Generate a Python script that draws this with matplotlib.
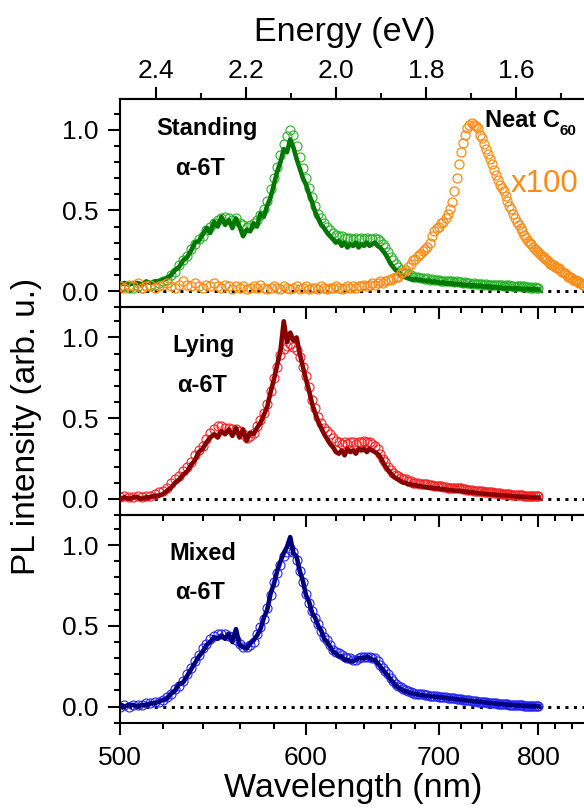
import matplotlib
matplotlib.use("Agg")
import matplotlib.pyplot as plt
import numpy as np
from matplotlib.ticker import FixedLocator, FormatStrFormatter

plt.rcParams["font.family"] = ["Liberation Sans", "DejaVu Sans"]

HC = 1239.84  # eV * nm

# wavelength grids (nm)
WL = np.arange(500, 801, 2)
WL_C60 = np.arange(500, 857, 2)

# standing alpha-6T: measured points and averaged trace
STANDING_PTS = [
    0.02, 0.03, 0.02, 0.02, 0.03, 0.02, 0.03, 0.03, 0.04, 0.05,
    0.06, 0.07, 0.10, 0.12, 0.16, 0.19, 0.22, 0.26, 0.29, 0.32,
    0.34, 0.38, 0.40, 0.42, 0.44, 0.45, 0.46, 0.45, 0.44, 0.45,
    0.42, 0.41, 0.40, 0.41, 0.42, 0.44, 0.47, 0.51, 0.56, 0.63,
    0.70, 0.77, 0.84, 0.91, 0.96, 1.00, 0.97, 0.90, 0.83, 0.76,
    0.70, 0.64, 0.58, 0.53, 0.48, 0.45, 0.42, 0.40, 0.38, 0.36,
    0.35, 0.34, 0.34, 0.33, 0.33, 0.33, 0.32, 0.33, 0.32, 0.33,
    0.32, 0.33, 0.32, 0.32, 0.33, 0.32, 0.31, 0.29, 0.27, 0.24,
    0.21, 0.19, 0.17, 0.15, 0.13, 0.12, 0.11, 0.10, 0.10, 0.09,
    0.09, 0.085, 0.08, 0.08, 0.075, 0.08, 0.07, 0.075, 0.07, 0.07,
    0.07, 0.065, 0.065, 0.06, 0.065, 0.06, 0.06, 0.055, 0.06, 0.055,
    0.055, 0.05, 0.055, 0.05, 0.05, 0.045, 0.05, 0.045, 0.045, 0.045,
    0.045, 0.04, 0.045, 0.04, 0.04, 0.035, 0.04, 0.035, 0.04, 0.035,
    0.035, 0.03, 0.035, 0.03, 0.035, 0.03, 0.03, 0.025, 0.03, 0.03,
    0.03, 0.025, 0.03, 0.025, 0.025, 0.02, 0.025, 0.02, 0.025, 0.02,
    0.02,
]
STANDING_LINE = [
    0.04, 0.05, 0.04, 0.05, 0.05, 0.04, 0.06, 0.05, 0.06, 0.06,
    0.07, 0.08, 0.10, 0.13, 0.15, 0.19, 0.21, 0.25, 0.30, 0.31,
    0.35, 0.39, 0.36, 0.43, 0.40, 0.46, 0.41, 0.44, 0.39, 0.45,
    0.40, 0.34, 0.38, 0.37, 0.42, 0.40, 0.48, 0.46, 0.53, 0.58,
    0.66, 0.74, 0.80, 0.88, 0.86, 0.94, 0.89, 0.82, 0.76, 0.70,
    0.66, 0.60, 0.55, 0.49, 0.45, 0.41, 0.39, 0.36, 0.34, 0.32,
    0.30, 0.31, 0.28, 0.30, 0.27, 0.29, 0.28, 0.30, 0.27, 0.29,
    0.28, 0.30, 0.28, 0.29, 0.30, 0.28, 0.27, 0.25, 0.23, 0.20,
    0.17, 0.15, 0.13, 0.12, 0.10, 0.09, 0.085, 0.08, 0.075, 0.07,
    0.075, 0.07, 0.07, 0.065, 0.065, 0.06, 0.065, 0.055, 0.06, 0.055,
    0.055, 0.05, 0.055, 0.045, 0.05, 0.045, 0.05, 0.04, 0.045, 0.04,
    0.045, 0.035, 0.04, 0.035, 0.04, 0.03, 0.035, 0.035, 0.03, 0.035,
    0.03, 0.025, 0.03, 0.025, 0.03, 0.02, 0.025, 0.025, 0.02, 0.025,
    0.02, 0.015, 0.02, 0.015, 0.02, 0.015, 0.015, 0.02, 0.015, 0.015,
    0.015, 0.01, 0.015, 0.01, 0.015, 0.01, 0.01, 0.015, 0.01, 0.01,
    0.01,
]

# neat C60 film, scaled x100
C60_PTS = [
    0.03, 0.02, 0.04, 0.03, 0.05, 0.02, 0.03, 0.04, 0.02, 0.03,
    0.04, 0.05, 0.03, 0.02, 0.04, 0.06, 0.04, 0.03, 0.05, 0.03,
    0.02, 0.04, 0.03, 0.05, 0.03, 0.02, 0.04, 0.03, 0.01, 0.03,
    0.02, 0.03, 0.01, 0.02, 0.03, 0.02, 0.04, 0.02, 0.01, 0.02,
    0.03, 0.02, 0.01, 0.03, 0.02, 0.01, 0.02, 0.03, 0.01, 0.02,
    0.03, 0.01, 0.02, 0.02, 0.01, 0.03, 0.02, 0.01, 0.02, 0.02,
    0.03, 0.02, 0.01, 0.02, 0.03, 0.02, 0.03, 0.02, 0.03, 0.03,
    0.04, 0.03, 0.04, 0.05, 0.04, 0.05, 0.06, 0.05, 0.06, 0.07,
    0.07, 0.08, 0.09, 0.09, 0.11, 0.12, 0.13, 0.15, 0.17, 0.19,
    0.20, 0.22, 0.23, 0.25, 0.26, 0.27, 0.30, 0.34, 0.37, 0.39,
    0.40, 0.42, 0.43, 0.45, 0.48, 0.51, 0.55, 0.62, 0.70, 0.79,
    0.86, 0.92, 0.97, 1.01, 1.03, 1.04, 1.03, 1.02, 1.01, 0.97,
    0.95, 0.91, 0.88, 0.85, 0.82, 0.79, 0.75, 0.72, 0.69, 0.66,
    0.64, 0.62, 0.59, 0.56, 0.53, 0.51, 0.48, 0.45, 0.43, 0.41,
    0.39, 0.37, 0.35, 0.33, 0.31, 0.30, 0.29, 0.27, 0.26, 0.25,
    0.24, 0.23, 0.22, 0.21, 0.20, 0.19, 0.18, 0.17, 0.16, 0.16,
    0.15, 0.14, 0.14, 0.13, 0.12, 0.11, 0.11, 0.10, 0.09, 0.09,
    0.08, 0.07, 0.07, 0.06, 0.06, 0.05, 0.05, 0.04, 0.04,
]

# lying alpha-6T
LYING_PTS = [
    0.01, 0.02, 0.01, 0.01, 0.02, 0.01, 0.02, 0.02, 0.03, 0.04,
    0.05, 0.07, 0.10, 0.12, 0.14, 0.17, 0.20, 0.23, 0.27, 0.30,
    0.33, 0.37, 0.41, 0.43, 0.45, 0.45, 0.44, 0.44, 0.43, 0.43,
    0.42, 0.40, 0.38, 0.39, 0.41, 0.45, 0.49, 0.53, 0.59, 0.67,
    0.75, 0.82, 0.89, 0.93, 0.95, 0.96, 0.94, 0.92, 0.88, 0.82,
    0.76, 0.69, 0.61, 0.56, 0.51, 0.47, 0.44, 0.42, 0.40, 0.38,
    0.36, 0.35, 0.34, 0.35, 0.34, 0.35, 0.35, 0.34, 0.35, 0.35,
    0.36, 0.35, 0.35, 0.34, 0.33, 0.31, 0.28, 0.25, 0.23, 0.20,
    0.18, 0.16, 0.15, 0.14, 0.13, 0.12, 0.12, 0.11, 0.11, 0.10,
    0.10, 0.10, 0.095, 0.09, 0.09, 0.09, 0.085, 0.085, 0.08, 0.08,
    0.08, 0.08, 0.075, 0.075, 0.07, 0.07, 0.07, 0.065, 0.065, 0.065,
    0.065, 0.06, 0.06, 0.055, 0.055, 0.055, 0.05, 0.05, 0.05, 0.048,
    0.047, 0.045, 0.045, 0.042, 0.04, 0.04, 0.038, 0.036, 0.035, 0.034,
    0.033, 0.031, 0.03, 0.029, 0.028, 0.027, 0.026, 0.025, 0.024, 0.023,
    0.022, 0.021, 0.02, 0.02, 0.019, 0.018, 0.017, 0.016, 0.016, 0.015,
    0.015,
]
LYING_LINE = [
    0.00, 0.01, 0.00, 0.01, 0.01, 0.00, 0.01, 0.01, 0.02, 0.02,
    0.03, 0.05, 0.07, 0.10, 0.12, 0.15, 0.17, 0.21, 0.24, 0.29,
    0.31, 0.35, 0.38, 0.40, 0.38, 0.42, 0.40, 0.43, 0.39, 0.44,
    0.38, 0.43, 0.36, 0.41, 0.40, 0.44, 0.47, 0.52, 0.57, 0.66,
    0.74, 0.83, 0.92, 1.10, 0.97, 1.03, 0.98, 1.00, 0.90, 0.82,
    0.74, 0.67, 0.59, 0.53, 0.48, 0.44, 0.40, 0.37, 0.34, 0.32,
    0.29, 0.28, 0.30, 0.27, 0.31, 0.29, 0.30, 0.28, 0.31, 0.30,
    0.31, 0.29, 0.31, 0.30, 0.29, 0.28, 0.26, 0.23, 0.20, 0.18,
    0.16, 0.14, 0.13, 0.12, 0.11, 0.10, 0.10, 0.09, 0.09, 0.085,
    0.085, 0.08, 0.08, 0.075, 0.075, 0.07, 0.07, 0.07, 0.065, 0.065,
    0.065, 0.06, 0.06, 0.06, 0.055, 0.055, 0.055, 0.05, 0.05, 0.05,
    0.05, 0.045, 0.045, 0.045, 0.04, 0.04, 0.04, 0.038, 0.036, 0.035,
    0.034, 0.032, 0.031, 0.03, 0.029, 0.028, 0.027, 0.026, 0.025, 0.024,
    0.023, 0.022, 0.021, 0.02, 0.019, 0.018, 0.017, 0.016, 0.015, 0.014,
    0.014, 0.013, 0.012, 0.012, 0.011, 0.01, 0.01, 0.009, 0.009, 0.008,
    0.008,
]

# mixed alpha-6T
MIXED_PTS = [
    0.00, 0.01, 0.00, 0.01, 0.01, 0.01, 0.02, 0.02, 0.03, 0.03,
    0.04, 0.06, 0.08, 0.11, 0.13, 0.16, 0.20, 0.24, 0.28, 0.32,
    0.36, 0.39, 0.42, 0.44, 0.45, 0.45, 0.45, 0.44, 0.43, 0.41,
    0.39, 0.37, 0.37, 0.38, 0.40, 0.45, 0.49, 0.54, 0.61, 0.69,
    0.77, 0.83, 0.88, 0.93, 0.96, 0.98, 0.96, 0.91, 0.84, 0.77,
    0.70, 0.64, 0.59, 0.55, 0.51, 0.47, 0.43, 0.41, 0.38, 0.35,
    0.34, 0.33, 0.32, 0.31, 0.30, 0.30, 0.29, 0.29, 0.30, 0.31,
    0.31, 0.31, 0.31, 0.30, 0.30, 0.28, 0.26, 0.24, 0.22, 0.20,
    0.18, 0.16, 0.14, 0.13, 0.12, 0.11, 0.10, 0.095, 0.09, 0.085,
    0.08, 0.08, 0.075, 0.075, 0.07, 0.07, 0.068, 0.066, 0.065, 0.064,
    0.062, 0.06, 0.058, 0.057, 0.055, 0.054, 0.052, 0.05, 0.048, 0.046,
    0.045, 0.043, 0.041, 0.04, 0.038, 0.036, 0.034, 0.033, 0.031, 0.03,
    0.029, 0.027, 0.026, 0.024, 0.023, 0.021, 0.02, 0.019, 0.018, 0.017,
    0.016, 0.015, 0.014, 0.013, 0.012, 0.011, 0.01, 0.01, 0.009, 0.008,
    0.008, 0.007, 0.006, 0.006, 0.005, 0.005, 0.004, 0.004, 0.003, 0.003,
    0.002,
]
MIXED_LINE = [
    0.01, 0.00, 0.01, 0.01, 0.00, 0.01, 0.01, 0.02, 0.02, 0.03,
    0.04, 0.05, 0.08, 0.10, 0.14, 0.15, 0.19, 0.23, 0.27, 0.31,
    0.34, 0.38, 0.40, 0.43, 0.42, 0.44, 0.42, 0.45, 0.40, 0.48,
    0.38, 0.37, 0.36, 0.39, 0.41, 0.44, 0.48, 0.55, 0.60, 0.70,
    0.76, 0.84, 0.90, 0.95, 0.99, 1.05, 0.95, 0.93, 0.84, 0.78,
    0.69, 0.65, 0.58, 0.55, 0.50, 0.47, 0.42, 0.40, 0.37, 0.34,
    0.33, 0.31, 0.31, 0.29, 0.29, 0.28, 0.28, 0.29, 0.30, 0.30,
    0.30, 0.31, 0.30, 0.29, 0.29, 0.27, 0.25, 0.23, 0.21, 0.19,
    0.17, 0.15, 0.13, 0.12, 0.11, 0.10, 0.095, 0.09, 0.085, 0.08,
    0.078, 0.075, 0.072, 0.07, 0.068, 0.066, 0.064, 0.063, 0.062, 0.06,
    0.059, 0.057, 0.055, 0.054, 0.052, 0.05, 0.049, 0.047, 0.045, 0.044,
    0.042, 0.04, 0.039, 0.037, 0.036, 0.034, 0.032, 0.031, 0.03, 0.028,
    0.027, 0.026, 0.024, 0.023, 0.021, 0.02, 0.019, 0.018, 0.017, 0.016,
    0.015, 0.014, 0.013, 0.012, 0.011, 0.01, 0.009, 0.009, 0.008, 0.007,
    0.007, 0.006, 0.005, 0.005, 0.004, 0.004, 0.003, 0.003, 0.002, 0.002,
    0.001,
]

WL_MAJOR = [500, 600, 700, 800]
WL_MINOR = list(range(500, 861, 20))
EV_MAJOR = [2.4, 2.2, 2.0, 1.8, 1.6]
EV_MINOR = [2.3, 2.1, 1.9, 1.7, 1.5]

W, H = 584, 809


def fx(px):
    return px / W


def fy(py):
    return 1 - py / H


def ev(wl):
    return HC / np.asarray(wl, dtype=float)


fig = plt.figure(figsize=(W / 100, H / 100), dpi=100)

left, right = 120, 586
tops = [99, 306.8, 514.5]
ph = 208.2
e_left = ev(500)
e_right = e_left - (right - left) / 450

panels = [
    ("Standing", STANDING_PTS, STANDING_LINE, "#26b326", "#007800"),
    ("Lying", LYING_PTS, LYING_LINE, "#ff1f1f", "#870000"),
    ("Mixed", MIXED_PTS, MIXED_LINE, "#2424ff", "#00007d"),
]

axes = []
for i, (name, pts, line, c_pts, c_line) in enumerate(panels):
    top = tops[i]
    ax = fig.add_axes([fx(left), fy(top + ph), (right - left) / W, ph / H])
    ax.patch.set_alpha(0)
    ax.axhline(0, color="black", lw=2.2, ls=(0, (1, 1.8)), zorder=0.5)
    ax.plot(ev(WL), pts, "o", mfc="none", mec=c_pts, ms=6.5, mew=0.8, zorder=2)
    ax.plot(ev(WL), line, "-", color=c_line, lw=3.3, zorder=3)
    if i == 0:
        ax.plot(ev(WL_C60), C60_PTS, "o", mfc="none", mec="#ff8a12",
                ms=6.5, mew=0.9, zorder=4)
    ax.set_xlim(e_left, e_right)
    ax.set_ylim(-0.1, 1.19)

    ax.xaxis.set_major_locator(FixedLocator(ev(WL_MAJOR)))
    ax.xaxis.set_minor_locator(FixedLocator(ev(WL_MINOR)))
    ax.set_xticklabels([str(w) for w in WL_MAJOR] if i == 2 else [])
    ax.set_yticks([0.0, 0.5, 1.0])
    ax.yaxis.set_minor_locator(FixedLocator(np.arange(-1, 12) / 10))
    ax.yaxis.set_major_formatter(FormatStrFormatter("%.1f"))

    ax.tick_params(which="both", direction="out", width=1.5, labelsize=19,
                   top=False, right=False)
    ax.tick_params(which="major", length=8.6)
    ax.tick_params(which="minor", length=4.3)
    ax.tick_params(axis="y", pad=7)
    ax.tick_params(axis="x", pad=8)
    for s in ax.spines.values():
        s.set_linewidth(1.5)
    axes.append(ax)

# energy scale on top of the first panel
sec = axes[0].secondary_xaxis("top")
sec.set_xticks(EV_MAJOR)
sec.set_xticks(EV_MINOR, minor=True)
sec.xaxis.set_major_formatter(FormatStrFormatter("%.1f"))
sec.tick_params(which="both", direction="out", width=1.5, labelsize=19, pad=3)
sec.tick_params(which="major", length=8.6)
sec.tick_params(which="minor", length=4.3)
sec.spines["top"].set_linewidth(1.5)

# axis titles
fig.text(fx(353), fy(797), "Wavelength (nm)", ha="center", va="baseline",
         fontsize=24.5)
fig.text(fx(345), fy(41), "Energy (eV)", ha="center", va="baseline",
         fontsize=24.5)
fig.text(fx(27), fy(426), "PL intensity (arb. u.)", ha="center",
         va="center", rotation=90, fontsize=24)

# panel annotations
labels = [
    ("Standing", 207, 135, 200, 175),
    ("Lying", 204, 352, 202, 392),
    ("Mixed", 203, 560, 200, 599),
]
for name, x1, y1, x2, y2 in labels:
    fig.text(fx(x1), fy(y1), name, ha="center", va="baseline",
             fontsize=17, fontweight="bold")
    fig.text(fx(x2), fy(y2), "\u03b1-6T", ha="center", va="baseline",
             fontsize=17, fontweight="bold")

fig.text(fx(485), fy(127), "Neat C", ha="left", va="baseline",
         fontsize=17, fontweight="bold")
fig.text(fx(560), fy(135), "60", ha="left", va="baseline",
         fontsize=11, fontweight="bold")
fig.text(fx(511), fy(192), "x100", ha="left", va="baseline",
         fontsize=22.5, color="#ff8a12")

fig.savefig("out.png", dpi=100)
